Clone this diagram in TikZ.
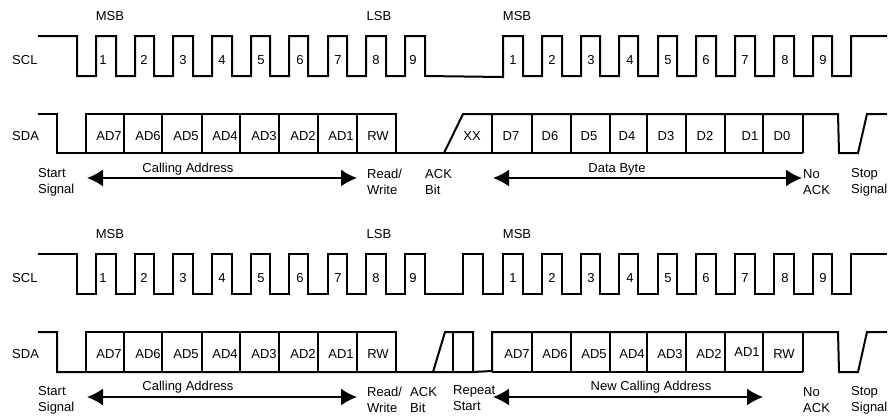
\documentclass[tikz,border=0pt]{standalone}
\usepackage{fontspec}
\setmainfont{Liberation Sans}
\usetikzlibrary{arrows.meta}

\tikzset{
    wave/.style={line width=2pt, line join=miter},
    cell/.style={line width=1.6pt},
    span/.style={line width=1.8pt, {Latex[length=16pt,width=17pt]}-{Latex[length=16pt,width=17pt]}},
    lbl/.style={font=\fontsize{13}{16}\selectfont, inner sep=0pt, align=left},
    side/.style={lbl, anchor=west}
}

\begin{document}
\begin{tikzpicture}[x=1pt,y=-1pt]
    \useasboundingbox (0,0) rectangle (890,416);

    % first transfer
    \node[lbl] (msba) at (110,16) {MSB};
    \node[lbl] (lsba) at (379,16) {LSB};
    \node[lbl] (msbb) at (517,16) {MSB};
    \node[side] (scla) at (12,60) {SCL};
    \node[side] (sdaa) at (12,136) {SDA};

    \draw[wave] (38,36) -| (77,76) -| (96,36) -| (116,76) -| (135,36) -| (154,76) -| (173,36) -| (193,76) -| (212,36) -| (232,76) -| (251,36) -| (270,76) -| (289,36) -| (308,76) -| (328,36) -| (347,76) -| (366,36) -| (386,76) -| (405,36) -| (425,76) -- (503,77) |- (523,36) |- (542,76) |- (562,36) |- (581,76) |- (600,36) |- (619,76) |- (638,36) |- (658,76) |- (677,36) |- (696,76) |- (716,36) |- (735,76) |- (755,36) |- (774,76) |- (794,36) |- (813,76) |- (832,36) |- (851,76) |- (887,36);

    \node[lbl] (c1a) at (103,60) {1};
    \node[lbl] (c2a) at (144,60) {2};
    \node[lbl] (c3a) at (183,60) {3};
    \node[lbl] (c4a) at (222,60) {4};
    \node[lbl] (c5a) at (261,60) {5};
    \node[lbl] (c6a) at (300,60) {6};
    \node[lbl] (c7a) at (338,60) {7};
    \node[lbl] (c8a) at (376,60) {8};
    \node[lbl] (c9a) at (413,60) {9};
    \node[lbl] (c1b) at (513,60) {1};
    \node[lbl] (c2b) at (552,60) {2};
    \node[lbl] (c3b) at (591,60) {3};
    \node[lbl] (c4b) at (630,60) {4};
    \node[lbl] (c5b) at (668,60) {5};
    \node[lbl] (c6b) at (706,60) {6};
    \node[lbl] (c7b) at (745,60) {7};
    \node[lbl] (c8b) at (785,60) {8};
    \node[lbl] (c9b) at (823,60) {9};

    \draw[wave] (38,114) -| (57,153) -- (803,153);
    \draw[wave] (86,153) |- (396,114) -- (396,153);
    \draw[wave] (444,153) -- (463,114) -- (838,114) -- (839,153) -- (858,153) -- (867,114) -- (887,114);
    \draw[cell] (124,114) -- (124,153);
    \draw[cell] (162,114) -- (162,153);
    \draw[cell] (202,114) -- (202,153);
    \draw[cell] (240,114) -- (240,153);
    \draw[cell] (279,114) -- (279,153);
    \draw[cell] (318,114) -- (318,153);
    \draw[cell] (357,114) -- (357,153);
    \draw[cell] (492,114) -- (492,153);
    \draw[cell] (532,114) -- (532,153);
    \draw[cell] (571,114) -- (571,153);
    \draw[cell] (610,114) -- (610,153);
    \draw[cell] (647,114) -- (647,153);
    \draw[cell] (686,114) -- (686,153);
    \draw[cell] (725,114) -- (725,153);
    \draw[cell] (763,114) -- (763,153);
    \draw[cell] (803,114) -- (803,153);

    \node[lbl] (ad7a) at (109,136) {AD7};
    \node[lbl] (ad6a) at (148,136) {AD6};
    \node[lbl] (ad5a) at (186,136) {AD5};
    \node[lbl] (ad4a) at (225,136) {AD4};
    \node[lbl] (ad3a) at (264,136) {AD3};
    \node[lbl] (ad2a) at (303,136) {AD2};
    \node[lbl] (ad1a) at (341,136) {AD1};
    \node[lbl] (rwa) at (378,136) {RW};
    \node[lbl] (xx) at (472,136) {XX};
    \node[lbl] (d7) at (511,136) {D7};
    \node[lbl] (d6) at (550,136) {D6};
    \node[lbl] (d5) at (589,136) {D5};
    \node[lbl] (d4) at (627,136) {D4};
    \node[lbl] (d3) at (666,136) {D3};
    \node[lbl] (d2) at (705,136) {D2};
    \node[lbl] (d1) at (750,136) {D1};
    \node[lbl] (d0) at (782,136) {D0};

    \node[side] (starta) at (38,182) {Start\\Signal};
    \node[lbl] (calla) at (188,169) {Calling Address};
    \node[side] (rwlbla) at (367,182) {Read/\\Write};
    \node[side] (acka) at (425,182) {ACK\\Bit};
    \node[lbl] (databyte) at (617,169) {Data Byte};
    \node[side] (noacka) at (803,182) {No\\ACK};
    \node[side] (stopa) at (851,182) {Stop\\Signal};

    \coordinate (callal) at (87,178);
    \coordinate (callar) at (357,178);
    \coordinate (datal) at (493,178);
    \coordinate (datar) at (802,178);
    \draw[span] (callal) to (callar);
    \draw[span] (datal) to (datar);

    % second transfer
    \node[lbl] (msbc) at (110,234) {MSB};
    \node[lbl] (lsbc) at (379,234) {LSB};
    \node[lbl] (msbd) at (517,234) {MSB};
    \node[side] (sclc) at (12,278) {SCL};
    \node[side] (sdac) at (12,354) {SDA};

    \draw[wave] (38,254) -| (77,294) -| (96,254) -| (116,294) -| (135,254) -| (154,294) -| (173,254) -| (193,294) -| (212,254) -| (232,294) -| (251,254) -| (270,294) -| (289,254) -| (308,294) -| (328,254) -| (347,294) -| (366,254) -| (386,294) -| (405,254) -| (425,294) -| (463,254) -| (483,294) -| (503,254) -| (523,294) -| (542,254) -| (562,294) -| (581,254) -| (600,294) -| (619,254) -| (638,294) -| (658,254) -| (677,294) -| (696,254) -| (716,294) -| (735,254) -| (755,294) -| (774,254) -| (794,294) -| (813,254) -| (832,294) -| (851,254) -- (887,254);

    \node[lbl] (c1c) at (103,278) {1};
    \node[lbl] (c2c) at (144,278) {2};
    \node[lbl] (c3c) at (183,278) {3};
    \node[lbl] (c4c) at (222,278) {4};
    \node[lbl] (c5c) at (261,278) {5};
    \node[lbl] (c6c) at (300,278) {6};
    \node[lbl] (c7c) at (338,278) {7};
    \node[lbl] (c8c) at (376,278) {8};
    \node[lbl] (c9c) at (413,278) {9};
    \node[lbl] (c1d) at (513,278) {1};
    \node[lbl] (c2d) at (552,278) {2};
    \node[lbl] (c3d) at (591,278) {3};
    \node[lbl] (c4d) at (630,278) {4};
    \node[lbl] (c5d) at (668,278) {5};
    \node[lbl] (c6d) at (706,278) {6};
    \node[lbl] (c7d) at (745,278) {7};
    \node[lbl] (c8d) at (785,278) {8};
    \node[lbl] (c9d) at (823,278) {9};

    \draw[wave] (38,332) -| (57,372) -- (473,372) -- (473,332) -- (445,332) -- (433,372);
    \draw[wave] (86,372) |- (396,332) -- (396,372);
    \draw[wave] (473,372) -- (492,371) -- (492,332) -- (838,332) -- (839,372) -- (858,372) -- (867,332) -- (887,332);
    \draw[wave] (492,372) -- (803,372);
    \draw[cell] (124,332) -- (124,372);
    \draw[cell] (162,332) -- (162,372);
    \draw[cell] (202,332) -- (202,372);
    \draw[cell] (240,332) -- (240,372);
    \draw[cell] (279,332) -- (279,372);
    \draw[cell] (318,332) -- (318,372);
    \draw[cell] (357,332) -- (357,372);
    \draw[cell] (453,332) -- (453,372);
    \draw[cell] (532,332) -- (532,372);
    \draw[cell] (571,332) -- (571,372);
    \draw[cell] (610,332) -- (610,372);
    \draw[cell] (647,332) -- (647,372);
    \draw[cell] (686,332) -- (686,372);
    \draw[cell] (725,332) -- (725,372);
    \draw[cell] (763,332) -- (763,372);
    \draw[cell] (803,332) -- (803,372);

    \node[lbl] (ad7c) at (109,354) {AD7};
    \node[lbl] (ad6c) at (148,354) {AD6};
    \node[lbl] (ad5c) at (186,354) {AD5};
    \node[lbl] (ad4c) at (225,354) {AD4};
    \node[lbl] (ad3c) at (264,354) {AD3};
    \node[lbl] (ad2c) at (303,354) {AD2};
    \node[lbl] (ad1c) at (341,354) {AD1};
    \node[lbl] (rwc) at (378,354) {RW};
    \node[lbl] (ad7d) at (517,354) {AD7};
    \node[lbl] (ad6d) at (555,354) {AD6};
    \node[lbl] (ad5d) at (594,354) {AD5};
    \node[lbl] (ad4d) at (632,354) {AD4};
    \node[lbl] (ad3d) at (670,354) {AD3};
    \node[lbl] (ad2d) at (709,354) {AD2};
    \node[lbl] (ad1d) at (747,352) {AD1};
    \node[lbl] (rwd) at (784,354) {RW};

    \node[side] (startc) at (38,400) {Start\\Signal};
    \node[lbl] (callc) at (188,387) {Calling Address};
    \node[side] (rwlblc) at (367,400) {Read/\\Write};
    \node[side] (ackc) at (410,400) {ACK\\Bit};
    \node[side] (repeat) at (453,398) {Repeat\\Start};
    \node[lbl] (newcall) at (651,387) {New Calling Address};
    \node[side] (noackc) at (803,400) {No\\ACK};
    \node[side] (stopc) at (851,400) {Stop\\Signal};

    \coordinate (callcl) at (87,397);
    \coordinate (callcr) at (357,397);
    \coordinate (newl) at (493,397);
    \coordinate (newr) at (763,397);
    \draw[span] (callcl) to (callcr);
    \draw[span] (newl) to (newr);
\end{tikzpicture}
\end{document}
